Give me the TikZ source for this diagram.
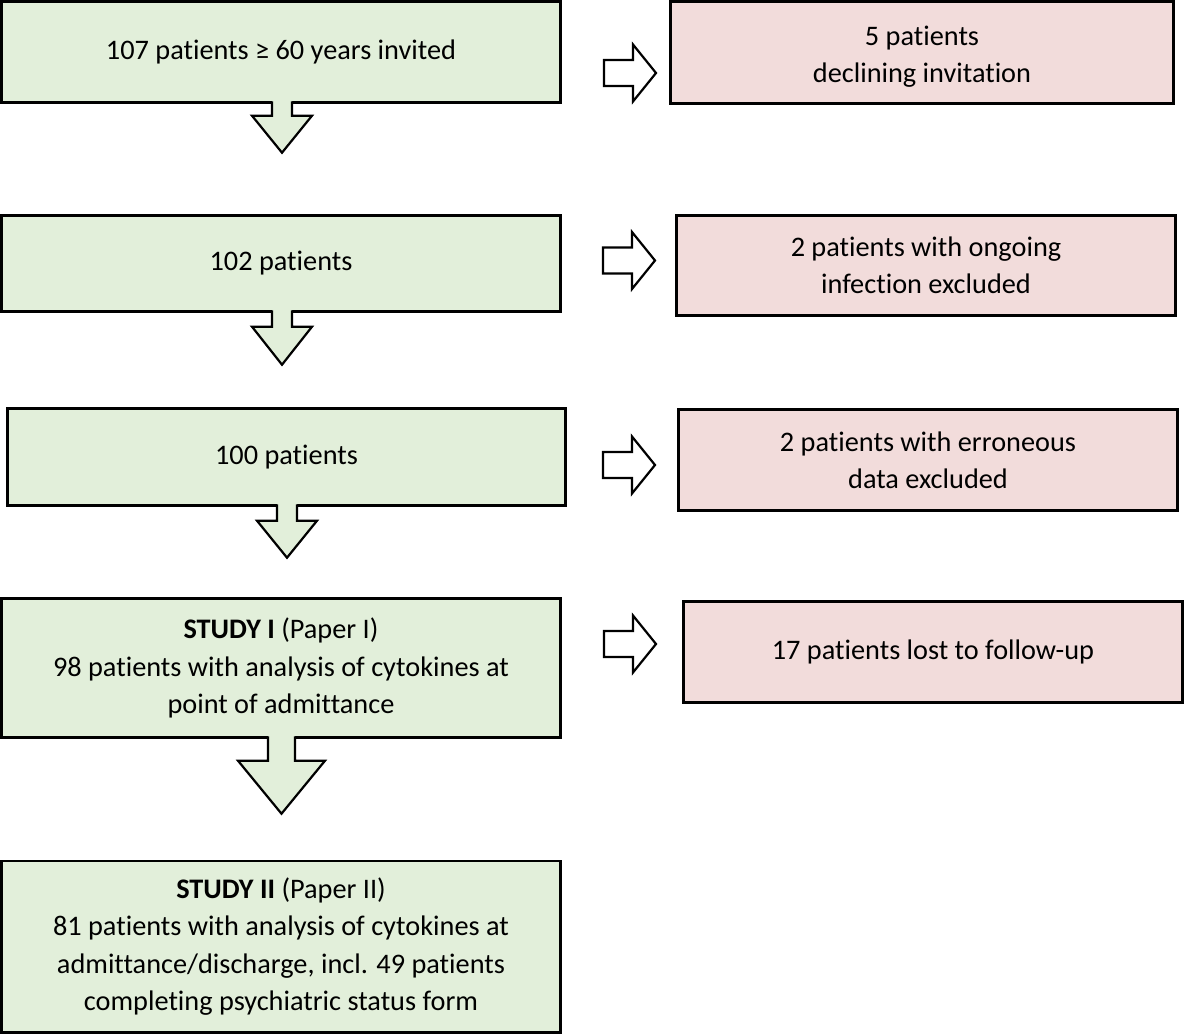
\documentclass[tikz,border=0pt]{standalone}
\usepackage{fontspec}
\setmainfont{Carlito}[Ligatures=NoCommon]
\usetikzlibrary{calc}
\definecolor{gfill}{HTML}{E2EFDA}
\definecolor{pfill}{HTML}{F2DCDB}
\tikzset{
  box/.style={draw=black, line width=2.6pt, inner sep=0pt, outer sep=0pt,
    align=center, font=\fontsize{28.3}{37.3}\selectfont, anchor=center},
  gbox/.style={box, fill=gfill},
  pbox/.style={box, fill=pfill},
  arrline/.style={draw=black, line width=2.2pt, line join=miter},
}
% #1 anchor, #2 dx, #3 shaft half width, #4 head half width, #5 shaft length, #6 head length
\newcommand{\dnarrow}[6]{%
  \begin{scope}[shift={#1}]
  \begin{scope}[shift={(#2,0)}]
    \fill[gfill] (-#3,-1.5) -- (-#3,#5) -- (-#4,#5) -- (0,#5+#6) -- (#4,#5) -- (#3,#5) -- (#3,-1.5) -- cycle;
    \draw[arrline] (-#3,-1.3) -- (-#3,#5) -- (-#4,#5) -- (0,#5+#6) -- (#4,#5) -- (#3,#5) -- (#3,-1.3);
  \end{scope}
  \end{scope}}
% right block arrow, #1 = left-middle coordinate
\newcommand{\rtarrow}[1]{%
  \begin{scope}[shift={#1}]
    \draw[arrline, fill=white] (0,-13) -- (29,-13) -- (29,-28.5) -- (52,0) -- (29,28.5) -- (29,13) -- (0,13) -- cycle;
  \end{scope}}
\begin{document}
\begin{tikzpicture}[x=1pt, y=-1pt]
  \useasboundingbox[fill=white] (0,0) rectangle (1184,1034);
  % green boxes
  \node[gbox, minimum width=559.4pt, minimum height=101.4pt] (b1) at (281,52)
    {107 patients ≥ 60 years invited};
  \node[gbox, minimum width=559.4pt, minimum height=96.4pt] (b2) at (281,263.5)
    {102 patients};
  \node[gbox, minimum width=558.4pt, minimum height=97.4pt] (b3) at (286.5,457)
    {100 patients};
  \node[gbox, minimum width=559.4pt, minimum height=139.4pt] (b4) at (281,668)
    {\textbf{STUDY I} (Paper I)\\98 patients with analysis of cytokines at\\point of admittance};
  \node[gbox, minimum width=559.4pt, minimum height=171.4pt] (b5) at (281,946.5)
    {\textbf{STUDY II} (Paper II)\\81 patients with analysis of cytokines at\\admittance/discharge, incl. 49 patients\\completing psychiatric status form};
  % pink boxes
  \node[pbox, minimum width=503.4pt, minimum height=102.4pt] (p1) at (922,52.5)
    {\raisebox{-4pt}[\height][\depth]{\begin{tabular}{@{}c@{}}5 patients\\declining invitation\end{tabular}}};
  \node[pbox, minimum width=499.4pt, minimum height=100.4pt] (p2) at (926,265.5)
    {2 patients with ongoing\\infection excluded};
  \node[pbox, minimum width=499.4pt, minimum height=101.4pt] (p3) at (928,460)
    {2 patients with erroneous\\data excluded};
  \node[pbox, minimum width=499.4pt, minimum height=101.4pt] (p4) at (933,652)
    {17 patients lost to follow-up};
  % down block arrows
  \dnarrow{(b1.south)}{1}{10}{30}{13}{37}
  \dnarrow{(b2.south)}{1}{10}{30}{15}{38}
  \dnarrow{(b3.south)}{0.5}{10}{30}{15}{37}
  \dnarrow{(b4.south)}{0.5}{13.5}{43.5}{23}{53}
  % right block arrows
  \coordinate (r1) at (604,73);
  \coordinate (r2) at (603,260.5);
  \coordinate (r3) at (603,465);
  \coordinate (r4) at (604,644);
  \rtarrow{(r1)}
  \rtarrow{(r2)}
  \rtarrow{(r3)}
  \rtarrow{(r4)}
\end{tikzpicture}
\end{document}
